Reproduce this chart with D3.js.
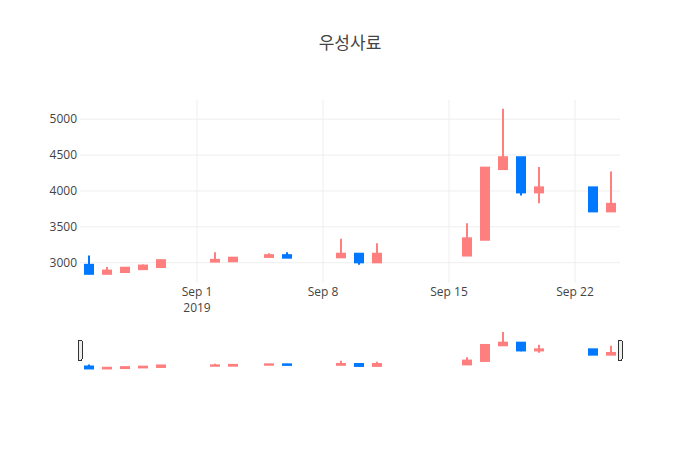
<!DOCTYPE html>
<html>
<head>
<meta charset="utf-8">
<script src="https://cdn.jsdelivr.net/npm/d3@7"></script>
<style>
  body { margin: 0; background: #fff; }
  svg text { font-family: "Open Sans", "Noto Sans CJK KR", sans-serif; fill: #444; }
</style>
</head>
<body>
<svg id="chart" width="700" height="450"></svg>
<script>
const width = 700;
const height = 450;

// ---- data ----
const dates = ["2019-08-26","2019-08-27","2019-08-28","2019-08-29","2019-08-30",
  "2019-09-02","2019-09-03","2019-09-05","2019-09-06","2019-09-09","2019-09-10","2019-09-11",
  "2019-09-16","2019-09-17","2019-09-18","2019-09-19","2019-09-20","2019-09-23","2019-09-24"];
const openValues  = [2970,2845,2870,2910,2940,3015,3020,3080,3105,3075,3125,3005,3100,3320,4305,4470,3980,4050,3715];
const highValues  = [3100,2940,2935,2975,3040,3145,3075,3130,3145,3335,3125,3270,3550,4325,5145,4470,4335,4050,4270];
const lowValues   = [2840,2845,2865,2905,2940,3015,3015,3080,3065,3075,2970,3005,3100,3320,4305,3935,3830,3705,3715];
const closeValues = [2845,2890,2930,2960,3035,3040,3070,3105,3070,3125,3005,3125,3340,4325,4470,3980,4050,3715,3820];
const yTicks = [3000,3500,4000,4500,5000];
const xTicks = ["2019-09-01","2019-09-08","2019-09-15","2019-09-22"];
const xRange = ["2019-08-25T12:00","2019-09-24T12:00"];
const yRange = [2717,5268];

const upColor = "#ff7f7f";
const downColor = "#0078ff";

const parse = d3.utcParse("%Y-%m-%d");
const parseT = d3.utcParse("%Y-%m-%dT%H:%M");

const candles = dates.map((d, i) => ({
  date: parse(d), open: openValues[i], high: highValues[i],
  low: lowValues[i], close: closeValues[i]
}));

const plot = {left: 80, right: 620, top: 100, bottom: 283};
const slider = {top: 330, bottom: 370.5};

const x = d3.scaleUtc().domain(xRange.map(parseT)).range([plot.left, plot.right]);
const y = d3.scaleLinear().domain(yRange).range([plot.bottom, plot.top]);
const ySlider = d3.scaleLinear().domain(yRange).range([slider.bottom, slider.top]);

const svg = d3.select("#chart");

// title
svg.append("text")
  .attr("x", width / 2).attr("y", 49)
  .attr("text-anchor", "middle")
  .style("font-size", "17px")
  .text("우성사료");

// grid
const grid = svg.append("g");
grid.selectAll("line.ygrid").data(yTicks).join("line")
  .attr("x1", plot.left).attr("x2", plot.right)
  .attr("y1", d => y(d)).attr("y2", d => y(d))
  .attr("stroke", "#eee").attr("stroke-width", 1);
grid.selectAll("line.xgrid").data(xTicks).join("line")
  .attr("x1", d => x(parse(d))).attr("x2", d => x(parse(d)))
  .attr("y1", plot.top).attr("y2", plot.bottom)
  .attr("stroke", "#eee").attr("stroke-width", 1);

// y axis labels
svg.append("g").selectAll("text").data(yTicks).join("text")
  .attr("x", 77).attr("y", d => y(d))
  .attr("dy", "0.35em")
  .attr("text-anchor", "end")
  .style("font-size", "12px")
  .text(d => d);

// x axis labels
const fmt = d3.utcFormat("%b %-d");
const xLab = svg.append("g").selectAll("text").data(xTicks).join("text")
  .attr("x", d => x(parse(d))).attr("y", 296)
  .attr("text-anchor", "middle")
  .style("font-size", "12px");
xLab.append("tspan").text(d => fmt(parse(d)));
xLab.filter((d, i) => i === 0).append("tspan")
  .attr("x", d => x(parse(d))).attr("dy", 16)
  .text(d => d.slice(0, 4));

// candles
function drawCandles(layer, ys) {
  const bodyW = 8;
  const g = layer.selectAll("g").data(candles).join("g")
    .attr("transform", d => `translate(${x(d.date)},0)`);
  const col = d => d.close >= d.open ? upColor : downColor;
  g.append("line")
    .attr("x1", 0).attr("x2", 0)
    .attr("y1", d => ys(d.high)).attr("y2", d => ys(d.low))
    .attr("stroke", col).attr("stroke-width", 2);
  g.append("rect")
    .attr("x", -bodyW / 2).attr("width", bodyW)
    .attr("y", d => ys(Math.max(d.open, d.close)))
    .attr("height", d => Math.abs(ys(d.open) - ys(d.close)))
    .attr("fill", col).attr("stroke", col).attr("stroke-width", 2);
}

svg.append("defs").append("clipPath").attr("id", "plotClip")
  .append("rect").attr("x", plot.left).attr("y", plot.top)
  .attr("width", plot.right - plot.left).attr("height", plot.bottom - plot.top);

drawCandles(svg.append("g").attr("clip-path", "url(#plotClip)"), y);

// range slider
svg.append("rect")
  .attr("x", plot.left).attr("y", slider.top)
  .attr("width", plot.right - plot.left).attr("height", slider.bottom - slider.top)
  .attr("fill", "#fff");
drawCandles(svg.append("g"), ySlider);

const handleH = (slider.bottom - slider.top) / 2;
svg.append("g").selectAll("rect").data(xRange).join("rect")
  .attr("x", d => x(parseT(d)) - 2)
  .attr("y", (slider.top + slider.bottom) / 2 - handleH / 2)
  .attr("width", 4).attr("height", handleH)
  .attr("rx", 1)
  .attr("fill", "#eee").attr("stroke", "#333").attr("stroke-width", 1)
  .attr("shape-rendering", "crispEdges");
</script>
</body>
</html>
